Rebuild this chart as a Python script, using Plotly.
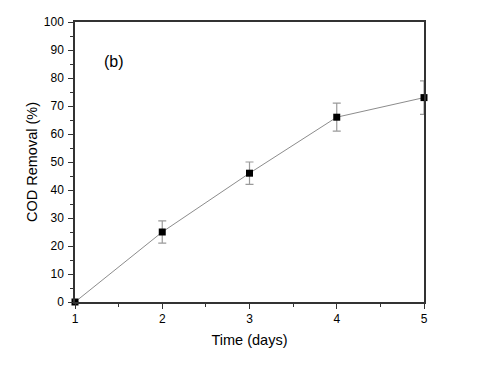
import plotly.graph_objects as go

# Data
days = [1, 2, 3, 4, 5]
cod_removal = [0, 25, 46, 66, 73]
cod_error = [0, 4, 4, 5, 6]

fig = go.Figure()

fig.add_trace(go.Scatter(
    x=days,
    y=cod_removal,
    mode="lines+markers",
    line=dict(color="#8c8c8c", width=1),
    marker=dict(symbol="square", size=7, color="black"),
    error_y=dict(type="data", array=cod_error, visible=True,
                 color="#9a9a9a", thickness=1.2, width=4),
    cliponaxis=False,
    showlegend=False,
))

fig.add_annotation(
    text="(b)", x=1.45, y=86, xref="x", yref="y",
    showarrow=False, font=dict(size=16, color="black"),
)

axis_font = dict(family="Liberation Sans, Arial, sans-serif", size=12, color="black")

# page has an 8px body margin, so shift the plot area up/left to compensate
fig.update_layout(
    width=480,
    height=365,
    margin=dict(l=67, r=64, t=14, b=71),
    plot_bgcolor="white",
    paper_bgcolor="white",
    font=dict(family="Liberation Sans, Arial, sans-serif", color="black"),
    xaxis=dict(
        range=[1, 5],
        tickvals=[1, 2, 3, 4, 5],
        ticks="outside", ticklen=5, tickwidth=1, tickcolor="#333",
        minor=dict(tickvals=[1.5, 2.5, 3.5, 4.5], ticks="outside",
                   ticklen=3, tickcolor="#333"),
        showline=True, linecolor="#333", linewidth=1.5, mirror=True,
        showgrid=False, zeroline=False, automargin=False,
        tickfont=axis_font,
        title=dict(text="Time (days)", font=dict(size=14.5), standoff=10),
    ),
    yaxis=dict(
        range=[0, 100],
        dtick=10,
        ticks="outside", ticklen=5, tickwidth=1, tickcolor="#333",
        minor=dict(dtick=5, ticks="outside", ticklen=3, tickcolor="#333"),
        showline=True, linecolor="#333", linewidth=1.5, mirror=True,
        showgrid=False, zeroline=False, automargin=False,
        ticklabelstandoff=2,
        tickfont=axis_font,
        title=dict(text="COD Removal (%)", font=dict(size=14.5), standoff=3),
    ),
)

fig.write_html("out.html")
